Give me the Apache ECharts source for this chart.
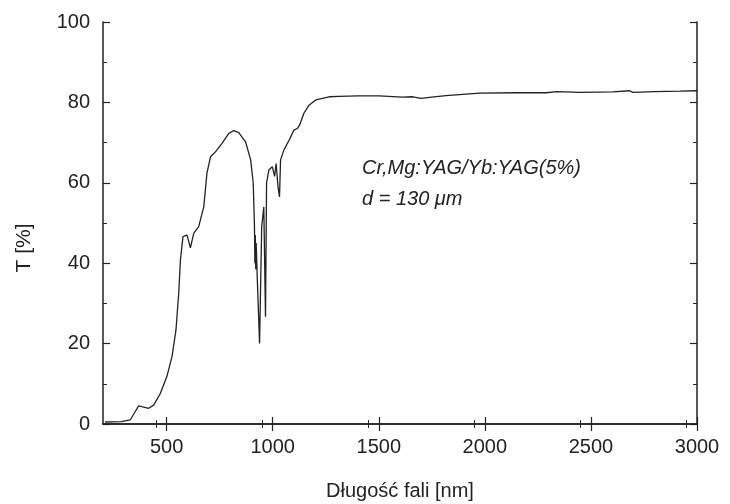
<!DOCTYPE html>
<html>
<head>
<meta charset="utf-8">
<script src="https://cdn.jsdelivr.net/npm/echarts@6/dist/echarts.min.js"></script>
<style>
  html, body { margin: 0; padding: 0; background: #fff; }
  #main { width: 730px; height: 504px; }
</style>
</head>
<body>
<div id="main"></div>
<script>
// wavelength [nm] and transmission [%]
var wavelength = [210, 287, 328, 352, 368, 383, 415, 439, 470, 501, 525, 544, 557, 565, 577, 596, 612, 628, 651, 675, 690, 707, 730, 761, 793, 817, 840, 872, 896, 908, 914, 916, 918, 920, 922, 927, 938, 948, 958, 966, 971, 982, 998, 1009, 1016, 1025, 1032, 1037, 1053, 1077, 1100, 1116, 1127, 1147, 1171, 1203, 1266, 1313, 1400, 1502, 1611, 1660, 1699, 1760, 1817, 1974, 2150, 2290, 2337, 2450, 2603, 2683, 2698, 2800, 2920, 3000];
var transmission = [0.5, 0.6, 1.0, 3.1, 4.5, 4.3, 3.9, 4.7, 7.6, 11.8, 16.7, 23.4, 32.6, 40.8, 46.6, 47.0, 43.8, 47.5, 49.1, 54.0, 62.4, 66.5, 67.7, 69.8, 72.3, 73.0, 72.5, 70.2, 65.7, 60.0, 49.1, 40.0, 47.0, 38.5, 45.0, 36.6, 20.0, 49.0, 54.0, 26.7, 60.0, 63.2, 64.0, 61.6, 64.8, 59.0, 56.5, 65.7, 68.2, 70.6, 73.1, 73.5, 74.4, 77.3, 79.3, 80.6, 81.4, 81.5, 81.6, 81.6, 81.3, 81.4, 81.0, 81.4, 81.7, 82.3, 82.4, 82.4, 82.7, 82.5, 82.6, 82.9, 82.5, 82.7, 82.8, 82.9];

var xTicks = [500, 1000, 1500, 2000, 2500, 3000];

var points = wavelength.map(function (w, i) { return [w, transmission[i]]; });

var myChart = echarts.init(document.getElementById('main'));

var font = 'Liberation Sans, Arial, sans-serif';
var ink = '#222';
var axisLine = { show: true, lineStyle: { color: ink, width: 1.5 } };
var tick = { show: true, inside: true, length: 7, lineStyle: { color: ink, width: 1.2 } };
var minor = { show: true, splitNumber: 2, length: 4, lineStyle: { color: ink } };

myChart.setOption({
    animation: false,
    backgroundColor: '#fff',
    grid: { left: 103, right: 33, top: 22, bottom: 80, containLabel: false, outerBoundsMode: 'none' },
    xAxis: [
        {
            type: 'value',
            min: 200, max: 3000,
            interval: 500,
            axisLine: axisLine,
            axisTick: Object.assign({ customValues: xTicks }, tick),
            minorTick: minor,
            axisLabel: { fontSize: 20, color: ink, fontFamily: font, margin: 13,
                customValues: xTicks, formatter: function (v) { return String(v); } },
            splitLine: { show: false },
            name: 'Długość fali [nm]',
            nameLocation: 'middle',
            nameGap: 57,
            nameTextStyle: { fontSize: 20, color: ink, fontFamily: font }
        },
        {
            type: 'value',
            position: 'top',
            min: 200, max: 3000,
            interval: 500,
            axisLine: axisLine,
            axisTick: Object.assign({ customValues: xTicks }, tick),
            minorTick: minor,
            axisLabel: { show: false },
            splitLine: { show: false }
        }
    ],
    yAxis: [
        {
            type: 'value',
            min: 0, max: 100, interval: 20,
            axisLine: axisLine,
            axisTick: tick,
            minorTick: minor,
            axisLabel: { fontSize: 20, color: ink, fontFamily: font, margin: 13 },
            splitLine: { show: false }
        },
        {
            type: 'value',
            position: 'right',
            min: 0, max: 100, interval: 20,
            axisLine: axisLine,
            axisTick: tick,
            minorTick: minor,
            axisLabel: { show: false },
            splitLine: { show: false }
        }
    ],
    graphic: [
        {
            type: 'text', x: 24, y: 248, rotation: Math.PI / 2,
            style: { text: 'T [%]', fontSize: 21, fontFamily: font, fill: ink,
                align: 'center', verticalAlign: 'middle' }
        },
        {
            type: 'text', left: 362, top: 158,
            style: { text: 'Cr,Mg:YAG/Yb:YAG(5%)', fontSize: 20, fontStyle: 'italic',
                fontFamily: font, fill: ink }
        },
        {
            type: 'text', left: 362, top: 189,
            style: { text: 'd = 130 \u03bcm', fontSize: 20, fontStyle: 'italic',
                fontFamily: font, fill: ink }
        }
    ],
    series: [
        {
            type: 'line',
            data: points,
            showSymbol: false,
            lineStyle: { color: ink, width: 1.3 }
        }
    ]
});
</script>
</body>
</html>
